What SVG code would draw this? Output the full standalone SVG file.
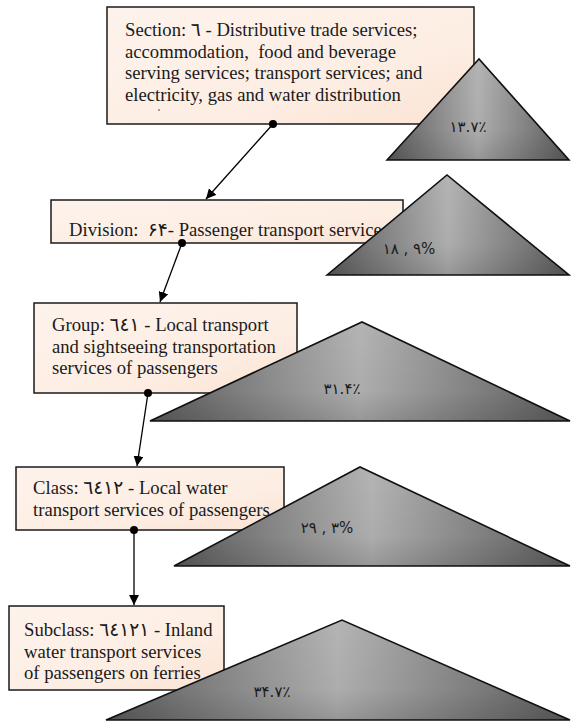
<svg xmlns="http://www.w3.org/2000/svg" width="571" height="722" viewBox="0 0 571 722">
  <defs>
    <linearGradient id="boxFill" x1="0" y1="0" x2="1" y2="1">
      <stop offset="0" stop-color="#fdf3ec"/>
      <stop offset="0.6" stop-color="#fdeee4"/>
      <stop offset="1" stop-color="#fbe3d3"/>
    </linearGradient>
    <linearGradient id="triFill" x1="0" y1="0" x2="1" y2="0">
      <stop offset="0" stop-color="#606060"/>
      <stop offset="0.5" stop-color="#b4b4b4"/>
      <stop offset="1" stop-color="#606060"/>
    </linearGradient>
    <linearGradient id="triShade" x1="0" y1="0" x2="0" y2="1">
      <stop offset="0" stop-color="#000" stop-opacity="0"/>
      <stop offset="0.7" stop-color="#000" stop-opacity="0.04"/>
      <stop offset="1" stop-color="#000" stop-opacity="0.16"/>
    </linearGradient>
    <marker id="arrow" viewBox="0 0 10 10" refX="10" refY="5" markerWidth="10" markerHeight="10" markerUnits="userSpaceOnUse" orient="auto">
      <path d="M0,0 L10,5 L0,10 z" fill="#000"/>
    </marker>
  </defs>
  <style>
    .box { fill: url(#boxFill); stroke: #1a1a1a; stroke-width: 1.5; }
    .lbl { font-family: "Liberation Serif", "Times New Roman", "DejaVu Sans", serif; font-size: 18.67px; fill: #1a1a1a; }
    .tri { fill: url(#triFill); stroke: #111; stroke-width: 1.6; stroke-linejoin: miter; }
    .shade { fill: url(#triShade); stroke: none; }
    .pct { font-family: "DejaVu Sans", "Liberation Serif", sans-serif; font-size: 15px; fill: #1a1a1a; text-anchor: middle; direction: ltr; }
    .link { stroke: #000; stroke-width: 1.3; fill: none; marker-end: url(#arrow); }
    .dot { fill: #000; }
  </style>

  <!-- classification boxes -->
  <g id="section">
    <rect class="box" x="107" y="7" width="367" height="117"/>
    <text class="lbl" x="125" y="36">Section: ٦ - Distributive trade services;</text>
    <text class="lbl" x="125" y="57.5" xml:space="preserve">accommodation,  food and beverage</text>
    <text class="lbl" x="125" y="79">serving services; transport services; and</text>
    <text class="lbl" x="125" y="100.5">electricity, gas and water distribution</text>
    <circle cx="159" cy="110" r="0.8" fill="#333"/>
  </g>
  <g id="division">
    <rect class="box" x="51" y="200" width="352" height="43"/>
    <text class="lbl" x="69" y="236" xml:space="preserve">Division:  ۶۴- Passenger transport services</text>
  </g>
  <g id="group">
    <rect class="box" x="34" y="303" width="263" height="90"/>
    <text class="lbl" x="52" y="331">Group: ٦٤١ - Local transport</text>
    <text class="lbl" x="52" y="352.5">and sightseeing transportation</text>
    <text class="lbl" x="52" y="374">services of passengers</text>
  </g>
  <g id="class">
    <rect class="box" x="16" y="467" width="268" height="63"/>
    <text class="lbl" x="33" y="494">Class: ٦٤١٢ - Local water</text>
    <text class="lbl" x="33" y="515.5">transport services of passengers</text>
  </g>
  <g id="subclass">
    <rect class="box" x="9" y="606" width="215" height="84"/>
    <text class="lbl" x="24" y="636">Subclass: ٦٤١٢١ - Inland</text>
    <text class="lbl" x="24" y="657.5">water transport services</text>
    <text class="lbl" x="24" y="679">of passengers on ferries</text>
  </g>

  <!-- share triangles -->
  <g id="share-section">
    <polygon class="tri" points="387,160 479,59 569,160"/>
    <polygon class="shade" points="387,160 479,59 569,160"/>
    <text class="pct" x="468" y="132">۱۳.۷٪</text>
  </g>
  <g id="share-division">
    <polygon class="tri" points="327,275 447,175 569,275"/>
    <polygon class="shade" points="327,275 447,175 569,275"/>
    <text class="pct" x="409" y="254">۱۸ , ۹%</text>
  </g>
  <g id="share-group">
    <polygon class="tri" points="150,421 362,322 570,421"/>
    <polygon class="shade" points="150,421 362,322 570,421"/>
    <text class="pct" x="342" y="394">۳۱.۴٪</text>
  </g>
  <g id="share-class">
    <polygon class="tri" points="174,566 360,467 570,566"/>
    <polygon class="shade" points="174,566 360,467 570,566"/>
    <text class="pct" x="327" y="533">۲۹ , ۳%</text>
  </g>
  <g id="share-subclass">
    <polygon class="tri" points="106,720 342,620 570,720"/>
    <polygon class="shade" points="106,720 342,620 570,720"/>
    <text class="pct" x="272" y="697">۳۴.۷٪</text>
  </g>

  <!-- connectors -->
  <g id="connectors">
    <line class="link" x1="273" y1="124" x2="206" y2="199"/>
    <circle class="dot" cx="273" cy="124" r="4"/>
    <line class="link" x1="182" y1="243" x2="160" y2="302"/>
    <circle class="dot" cx="182" cy="243" r="4"/>
    <line class="link" x1="148" y1="393" x2="137" y2="466"/>
    <circle class="dot" cx="148" cy="393" r="4"/>
    <line class="link" x1="134" y1="530" x2="134" y2="605"/>
    <circle class="dot" cx="134" cy="530" r="4"/>
  </g>
</svg>
